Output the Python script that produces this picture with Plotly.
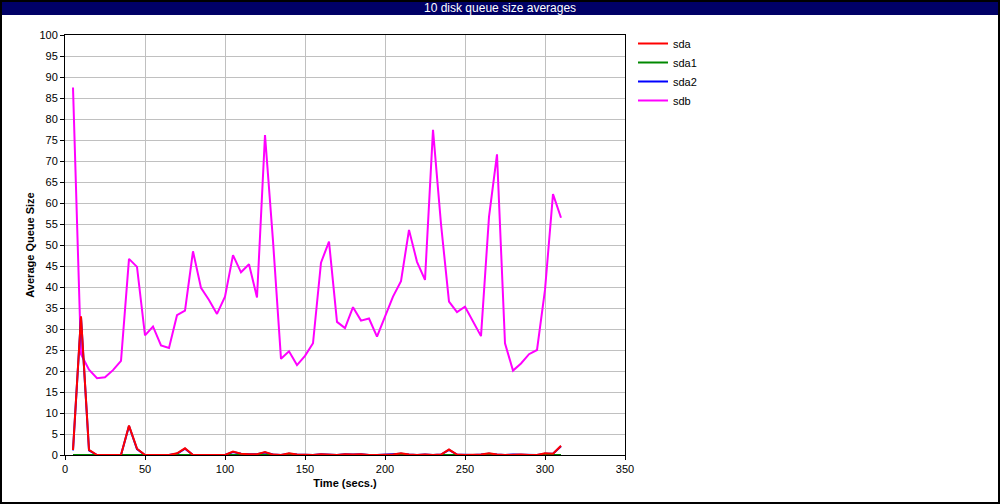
import plotly.graph_objects as go

times = list(range(5, 315, 5))

sda = [1.2, 33, 1.2, 0, 0, 0, 0, 7, 1.5, 0, 0, 0, 0, 0.4, 1.6, 0, 0, 0, 0, 0,
       0.8, 0.3, 0.2, 0.2, 0.7, 0.1, 0, 0.4, 0.1, 0.1, 0, 0.2, 0.1, 0, 0.2, 0.1,
       0.2, 0, 0, 0.1, 0.1, 0.4, 0.1, 0, 0.1, 0, 0.1, 1.3, 0.1, 0, 0, 0.1, 0.4,
       0.1, 0, 0.1, 0.1, 0, 0, 0.4, 0.3, 2.2]
sda1 = [0] * 62
sda2 = [1.1, 32.8, 1.1, 0, 0, 0, 0, 6.9, 1.4, 0, 0, 0, 0, 0.3, 1.5, 0, 0, 0, 0, 0,
        0.7, 0.3, 0.2, 0.2, 0.6, 0.1, 0, 0.3, 0.1, 0.1, 0, 0.2, 0.1, 0, 0.2, 0.1,
        0.2, 0, 0, 0.1, 0.1, 0.3, 0.1, 0, 0.1, 0, 0.1, 1.2, 0.1, 0, 0, 0.1, 0.3,
        0.1, 0, 0.1, 0.1, 0, 0, 0.3, 0.3, 2.1]
sdb = [87.5, 24, 20.3, 18.3, 18.5, 20.2, 22.4, 46.7, 44.8, 28.5, 30.6, 26.1, 25.5,
       33.3, 34.4, 48.5, 39.8, 36.9, 33.6, 37.7, 47.6, 43.5, 45.4, 37.5, 76.2, 51,
       22.9, 24.7, 21.4, 23.6, 26.6, 45.8, 50.8, 31.7, 30.2, 35.2, 32.0, 32.5, 28.2,
       32.9, 37.7, 41.4, 53.6, 46.0, 41.7, 77.4, 55, 36.5, 34.0, 35.3, 31.7, 28.3,
       56.7, 71.6, 26.6, 20.1, 21.8, 24.0, 25.0, 39.3, 62.1, 56.5]

series = [("sdb", sdb, "#ff00ff"), ("sda2", sda2, "#0000ff"),
          ("sda1", sda1, "#008800"), ("sda", sda, "#ff0000")]

title_text = "10 disk queue size averages"
x_title = "Time (secs.)"
y_title = "Average Queue Size"

W, H = 1000, 504
L, R, T, B = 65, 375, 35, 49
pw, ph = W - L - R, H - T - B


def px(x):
    return (x - L) / pw


def py(y):
    return (H - B - y) / ph


fig = go.Figure()
for name, vals, col in series:
    fig.add_trace(go.Scatter(x=times, y=vals, name=name, mode="lines",
                             line=dict(color=col, width=2)))

fig.update_layout(
    width=W, height=H,
    margin=dict(l=L, r=R, t=T, b=B),
    paper_bgcolor="white", plot_bgcolor="white",
    font=dict(family="Liberation Sans, Arial, sans-serif", size=11, color="black"),
    showlegend=True,
    legend=dict(traceorder="reversed", x=px(633), y=py(29), xanchor="left", yanchor="top",
                font=dict(size=11), bgcolor="rgba(0,0,0,0)", itemwidth=30),
    xaxis=dict(range=[0, 350], dtick=50, tick0=0, showgrid=True, gridcolor="#c0c0c0",
               gridwidth=1, showline=True, linecolor="black", linewidth=1, mirror=True,
               ticks="outside", ticklen=4, tickcolor="black", zeroline=False,
               title=dict(text="<b>" + x_title + "</b>", font=dict(size=11), standoff=5)),
    yaxis=dict(range=[0, 100], dtick=5, tick0=0, showgrid=True, gridcolor="#c0c0c0",
               gridwidth=1, showline=True, linecolor="black", linewidth=1, mirror=True,
               ticks="outside", ticklen=4, tickcolor="black", zeroline=False,
               title=dict(text="<b>" + y_title + "</b>", font=dict(size=11), standoff=2)),
    shapes=[
        dict(type="rect", xref="paper", yref="paper", x0=px(0), x1=px(1000),
             y0=py(15), y1=py(0), fillcolor="#000066", line=dict(width=0), layer="below"),
        dict(type="rect", xref="paper", yref="paper", x0=px(1), x1=px(999),
             y0=py(503), y1=py(1), fillcolor="rgba(0,0,0,0)",
             line=dict(color="black", width=2)),
    ],
    annotations=[
        dict(text=title_text, xref="paper", yref="paper", x=px(500), y=py(7.5),
             xanchor="center", yanchor="middle", showarrow=False,
             font=dict(family="Liberation Sans Narrow, Liberation Sans, sans-serif",
                       size=12, color="white")),
    ],
)

fig.write_html("out.html", config={"displayModeBar": False},
               post_script="document.body.style.margin='0';document.body.style.padding='0';")
